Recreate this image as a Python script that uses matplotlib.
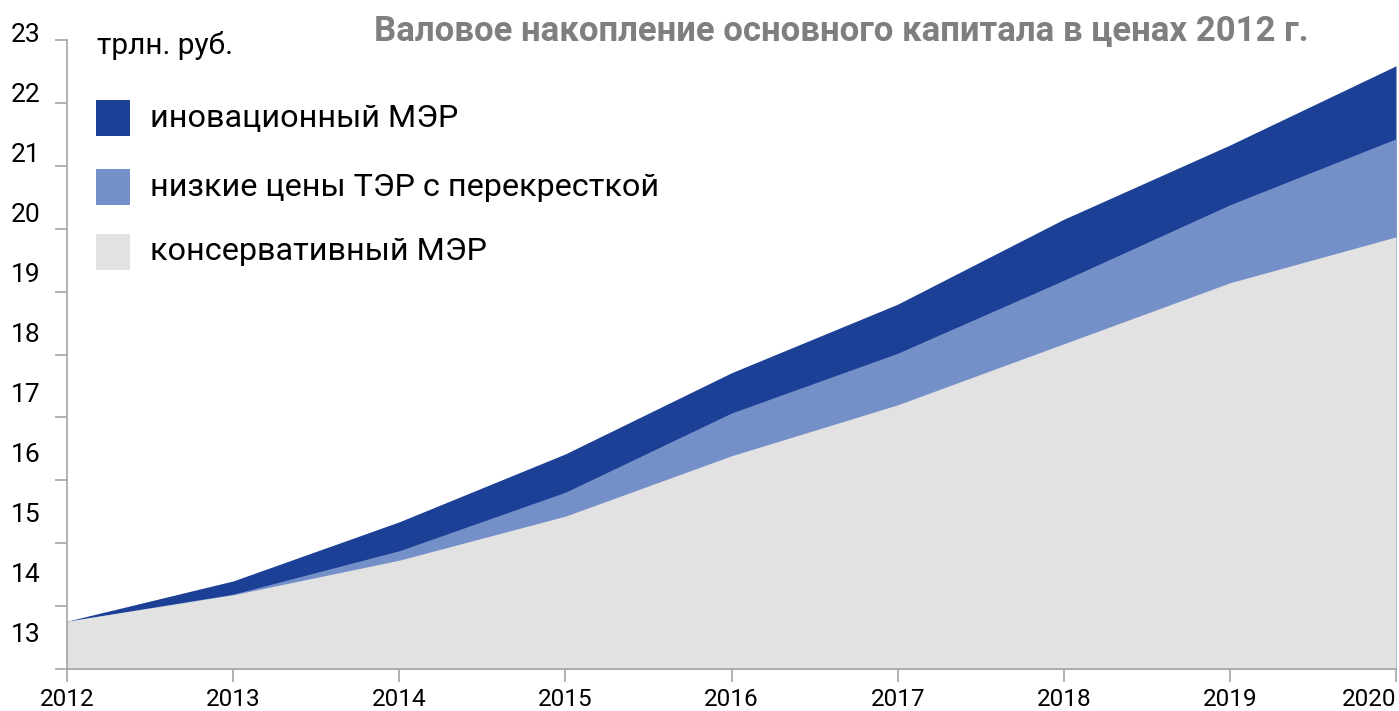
import matplotlib
matplotlib.use('Agg')
import matplotlib.pyplot as plt
from matplotlib import font_manager
from matplotlib.patches import Rectangle

# Шрифт: узкий, если есть, иначе Roboto
names = {f.name for f in font_manager.fontManager.ttflist}
narrow = 'Liberation Sans Narrow' if 'Liberation Sans Narrow' in names else 'Roboto'
plt.rcParams['font.family'] = [narrow, 'DejaVu Sans']

# Данные, трлн. руб.
years = [2012, 2013, 2014, 2015, 2016, 2017, 2018, 2019, 2020]
innovative = [13.76, 14.40, 15.34, 16.42, 17.71, 18.80, 20.15, 21.33, 22.59]
low_prices = [13.76, 14.19, 14.88, 15.81, 17.07, 18.02, 19.18, 20.38, 21.43]
conservative = [13.76, 14.18, 14.73, 15.43, 16.39, 17.20, 18.17, 19.14, 19.87]
y_labels = [13, 14, 15, 16, 17, 18, 19, 20, 21, 22, 23]

series_names = ['иновационный МЭР', 'низкие цены ТЭР с перекресткой', 'консервативный МЭР']

# Цвета
c_dark = '#1b4096'
c_light = '#7590c9'
c_gray = '#e2e2e2'
c_axis = '#a6a6a6'

W, H = 1399, 711
fig = plt.figure(figsize=(W / 100, H / 100), dpi=100)

def fx(px):
    return px / W

def fy(py):
    return 1 - py / H

# Основные оси: границы по пикселям картинки
ax = fig.add_axes([fx(67), fy(669), fx(1396) - fx(67), fy(40) - fy(669)])
ax.fill_between(years, 13, innovative, color=c_dark, linewidth=0)
ax.fill_between(years, 13, low_prices, color=c_light, linewidth=0)
ax.fill_between(years, 13, conservative, color=c_gray, linewidth=0)

ax.set_xlim(years[0], years[-1])
ax.set_ylim(y_labels[0], y_labels[-1])
ax.set_xticks(years)
ax.set_xticklabels([str(y) for y in years], fontsize=17.5)
ax.get_xticklabels()[-1].set_horizontalalignment('right')
ax.set_yticks(y_labels)
ax.set_yticklabels([])
for s in ['top', 'right']:
    ax.spines[s].set_visible(False)
for s in ['left', 'bottom']:
    ax.spines[s].set_color(c_axis)
    ax.spines[s].set_linewidth(1.2)
ax.tick_params(axis='both', color=c_axis, width=1.2, length=9, direction='out')
ax.tick_params(axis='x', pad=5, labelcolor='black')

# Подписи оси Y идут с другим шагом, чем засечки - отдельная ось
ax2 = fig.add_axes([fx(67), fy(633), fx(1396) - fx(67), fy(33) - fy(633)])
ax2.set_ylim(y_labels[0], y_labels[-1])
ax2.set_yticks(y_labels)
ax2.set_yticklabels([str(v) for v in y_labels], fontsize=19)
ax2.tick_params(axis='y', length=0, pad=19)
ax2.set_xticks([])
ax2.patch.set_visible(False)
for s in ax2.spines.values():
    s.set_visible(False)

# Заголовок и единицы
fig.text(fx(841), fy(31), 'Валовое накопление основного капитала в ценах 2012 г.',
         ha='center', va='center', fontsize=25, fontweight='bold', color='#7f7f7f')
fig.text(fx(97), fy(45), 'трлн. руб.', ha='left', va='center', fontsize=21.5, color='black')

# Легенда вручную
colors = [c_dark, c_light, c_gray]
rows = [118, 187, 252]
for name, col, yc in zip(series_names, colors, rows):
    fig.patches.append(Rectangle((fx(96), fy(yc + 18)), fx(34), fy(yc - 18) - fy(yc + 18),
                                 transform=fig.transFigure, facecolor=col, edgecolor='none'))
    fig.text(fx(150), fy(yc), name, ha='left', va='center', fontsize=23.3, color='black')

fig.savefig('out.png', dpi=100, facecolor='white')
